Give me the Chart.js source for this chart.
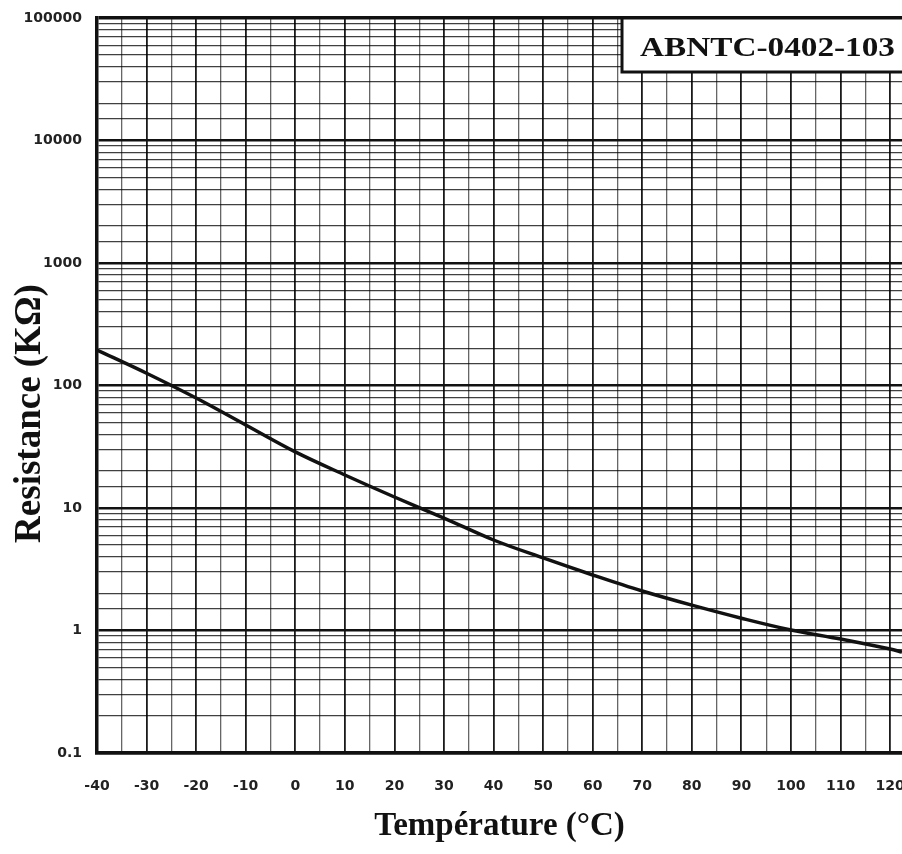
<!DOCTYPE html>
<html>
<head>
<meta charset="utf-8">
<script src="https://cdn.jsdelivr.net/npm/chart.js@4.4.1/dist/chart.umd.min.js"></script>
<style>
  html, body { margin: 0; padding: 0; background: #fff; overflow: hidden; }
  #wrap { width: 902px; height: 854px; position: relative; }
</style>
</head>
<body>
<div id="wrap"><canvas id="c" width="902" height="854"></canvas></div>
<script>
// ---- Data ----
const temperatures = [-40, -30, -20, -10, 0, 10, 20, 30, 40, 50, 60, 70, 80, 90, 100, 110, 120, 122.4];
const resistanceK = [195, 126, 79, 47.6, 28.7, 18.6, 12.3, 8.28, 5.48, 3.91, 2.84, 2.1, 1.61, 1.26, 1.01, 0.853, 0.706, 0.667];
const xTickLabels = [-40, -30, -20, -10, 0, 10, 20, 30, 40, 50, 60, 70, 80, 90, 100, 110, 120];
const yTickLabels = [0.1, 1, 10, 100, 1000, 10000, 100000];
const partLabel = 'ABNTC-0402-103';
const xTitle = 'Température (°C)';
const yTitle = 'Resistance (KΩ)';

const points = temperatures.map((t, i) => ({ x: t, y: resistanceK[i] }));

function isDecade(v) {
  const l = Math.log10(v);
  return Math.abs(l - Math.round(l)) < 1e-6;
}
function isTen(v) {
  return Math.abs(v / 10 - Math.round(v / 10)) < 1e-6;
}

const overlayPlugin = {
  id: 'overlay',
  afterDraw(chart) {
    const ctx = chart.ctx;
    const a = chart.chartArea;
    ctx.save();
    // part number box (top right)
    const bx = a.right - 280, by = a.top, bw = 300, bh = 54;
    ctx.fillStyle = '#fff';
    ctx.fillRect(bx, by, bw, bh);
    ctx.strokeStyle = '#111';
    ctx.lineWidth = 3;
    ctx.strokeRect(bx, by, bw, bh);
    ctx.fillStyle = '#111';
    ctx.font = 'bold 28px "Liberation Serif", "Times New Roman", serif';
    ctx.textBaseline = 'alphabetic';
    ctx.textAlign = 'left';
    const w = ctx.measureText(partLabel).width;
    const target = 255;
    ctx.translate(bx + 18, by + 38);
    ctx.scale(target / w, 1);
    ctx.fillText(partLabel, 0, 0);
    ctx.restore();

    // y axis title
    ctx.save();
    ctx.fillStyle = '#111';
    ctx.font = 'bold 37px "Liberation Serif", "Times New Roman", serif';
    ctx.textAlign = 'center';
    ctx.textBaseline = 'middle';
    ctx.translate(30, (a.top + a.bottom) / 2 + 28);
    ctx.rotate(-Math.PI / 2);
    ctx.fillText(yTitle, 0, 0);
    ctx.restore();
  }
};

new Chart(document.getElementById('c'), {
  type: 'line',
  data: {
    datasets: [{
      data: points,
      borderColor: '#111',
      borderWidth: 3.5,
      pointRadius: 0,
      fill: false,
      tension: 0.35
    }]
  },
  options: {
    responsive: false,
    animation: false,
    layout: { padding: { top: 18, right: 0, left: 0, bottom: 0 } },
    plugins: { legend: { display: false }, tooltip: { enabled: false } },
    scales: {
      x: {
        type: 'linear',
        min: -40,
        max: 122.4,
        afterBuildTicks(scale) {
          const first = xTickLabels[0], last = xTickLabels[xTickLabels.length - 1];
          const t = [];
          for (let v = first; v <= last + 1e-9; v += 5) t.push({ value: v });
          scale.ticks = t;
        },
        afterFit(scale) {
          scale.height = 101;
          scale.paddingLeft = 0;
          scale.paddingRight = 0;
        },
        ticks: {
          autoSkip: false,
          maxRotation: 0,
          padding: 25,
          color: '#222',
          font: { family: '"DejaVu Sans", sans-serif', weight: 'bold', size: 14 },
          callback: (v) => (xTickLabels.includes(v) ? String(v) : '')
        },
        grid: {
          drawTicks: false,
          color: (c) => (c.tick && isTen(c.tick.value) ? '#1a1a1a' : 'rgba(0,0,0,0.6)'),
          lineWidth: (c) => (c.tick && isTen(c.tick.value) ? 1.8 : 1.3)
        },
        border: { display: true, color: '#111', width: 3.5 },
        title: {
          display: true,
          text: xTitle,
          color: '#111',
          font: { family: '"Liberation Serif", "Times New Roman", serif', weight: 'bold', size: 33 },
          padding: { top: 0, bottom: 8 }
        }
      },
      y: {
        type: 'logarithmic',
        min: 0.1,
        max: 100000,
        afterFit(scale) {
          scale.width = 97;
          scale.paddingTop = 0;
          scale.paddingBottom = 0;
        },
        ticks: {
          autoSkip: false,
          padding: 15,
          color: '#222',
          font: { family: '"DejaVu Sans", sans-serif', weight: 'bold', size: 14 },
          callback: (v) => (yTickLabels.some(t => Math.abs(t - v) / t < 1e-6) ? String(v) : '')
        },
        grid: {
          drawTicks: false,
          color: (c) => (c.tick && isDecade(c.tick.value) ? '#111' : 'rgba(0,0,0,0.75)'),
          lineWidth: (c) => (c.tick && isDecade(c.tick.value) ? (c.tick.value >= 100000 ? 3.5 : 2.6) : 1.3)
        },
        border: { display: true, color: '#111', width: 3.5 }
      }
    }
  },
  plugins: [overlayPlugin]
});
</script>
</body>
</html>
